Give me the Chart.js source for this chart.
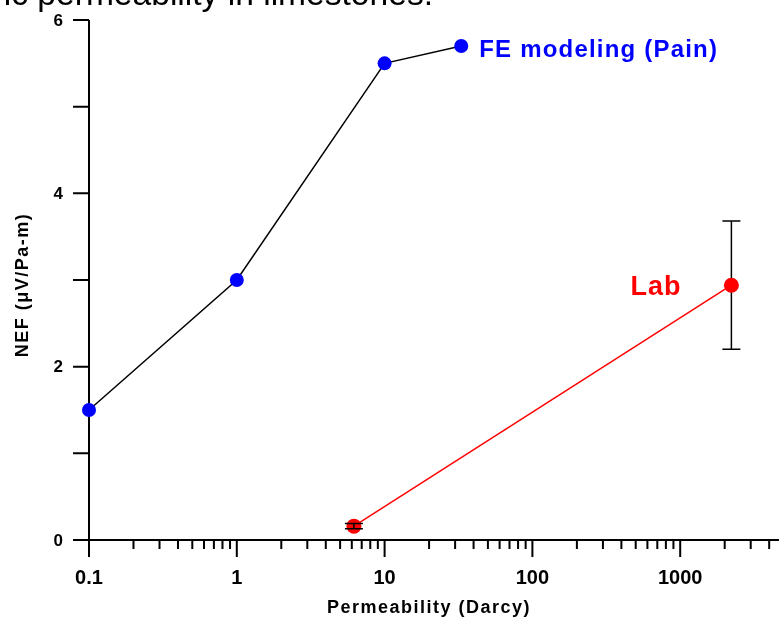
<!DOCTYPE html>
<html>
<head>
<meta charset="utf-8">
<script src="https://cdn.jsdelivr.net/npm/chart.js@4.4.1/dist/chart.umd.min.js"></script>
<style>
  html, body { margin: 0; padding: 0; background: #fff; overflow: hidden; }
  #wrap { width: 779px; height: 619px; overflow: hidden; position: relative; }
  canvas { display: block; }
</style>
</head>
<body>
<div id="wrap"><canvas id="chart__1" width="840" height="619"></canvas></div>
<script>
"use strict";

// FE modeling (Pain)
const feK = [0.1, 1, 10, 33];
const feNEF = [1.5, 3.0, 5.5, 5.7];

// Lab measurements, with +/- spread
const labK = [6.2, 2220];
const labNEF = [0.16, 2.94];
const labErr = [0.03, 0.74];

// axes
const xMin = 0.1;
const xMax = 10000;
const yMin = 0;
const yMax = 6;
const xMajorTicks = [0.1, 1, 10, 100, 1000];
const xTickLabels = ["0.1", "1", "10", "100", "1000"];
const yMajorTicks = [0, 2, 4, 6];
const yTickLabels = ["0", "2", "4", "6"];
const yMinorTicks = [1, 3, 5];

const BOLD = "'Liberation Sans', Arial, sans-serif";

const toPoints = (xs, ys) => xs.map((v, i) => ({ x: v, y: ys[i] }));

const axisPlugin = {
  id: "axisPlugin",
  beforeDatasetsDraw(chart) {
    const ctx = chart.ctx;
    const sx = chart.scales.x;
    const sy = chart.scales.y;
    const x0 = sx.getPixelForValue(xMin);
    const y0 = sy.getPixelForValue(yMin);

    ctx.save();
    ctx.strokeStyle = "#000";
    ctx.lineWidth = 2;
    ctx.beginPath();
    ctx.moveTo(x0, sy.getPixelForValue(yMax));
    ctx.lineTo(x0, y0);
    ctx.moveTo(x0 - 16, y0);
    ctx.lineTo(chart.width, y0);

    // y ticks point outwards
    yMajorTicks.concat(yMinorTicks).forEach((v) => {
      const py = sy.getPixelForValue(v);
      ctx.moveTo(x0 - 16, py);
      ctx.lineTo(x0, py);
    });

    // x ticks: decades long, 2..9 short
    xMajorTicks.concat([xMax]).forEach((v) => {
      const px = sx.getPixelForValue(v);
      ctx.moveTo(px, y0);
      ctx.lineTo(px, y0 + 17);
    });
    xMajorTicks.forEach((d) => {
      for (let m = 2; m <= 9; m++) {
        const px = sx.getPixelForValue(d * m);
        ctx.moveTo(px, y0);
        ctx.lineTo(px, y0 + 9);
      }
    });
    ctx.stroke();

    // tick labels
    ctx.fillStyle = "#000";
    ctx.font = "bold 17px " + BOLD;
    ctx.textBaseline = "middle";
    ctx.textAlign = "right";
    yMajorTicks.forEach((v, i) => {
      ctx.fillText(yTickLabels[i], x0 - 26, sy.getPixelForValue(v) + 1);
    });
    ctx.font = "bold 20px " + BOLD;
    ctx.textAlign = "center";
    xMajorTicks.forEach((v, i) => {
      ctx.fillText(xTickLabels[i], sx.getPixelForValue(v), y0 + 38);
    });

    // axis titles
    ctx.font = "bold 18px " + BOLD;
    ctx.letterSpacing = "1.5px";
    ctx.fillText("Permeability (Darcy)", 429, y0 + 68);
    ctx.save();
    ctx.translate(23, 285);
    ctx.rotate(-Math.PI / 2);
    ctx.fillText("NEF (\u03BCV/Pa-m)", 0, 0);
    ctx.restore();
    ctx.letterSpacing = "0px";

    // error bar stems sit under the markers
    ctx.lineWidth = 1.5;
    ctx.beginPath();
    labK.forEach((k, i) => {
      const px = sx.getPixelForValue(k);
      ctx.moveTo(px, sy.getPixelForValue(labNEF[i] + labErr[i]));
      ctx.lineTo(px, sy.getPixelForValue(labNEF[i] - labErr[i]));
    });
    ctx.stroke();
    ctx.restore();
  },
  afterDatasetsDraw(chart) {
    const ctx = chart.ctx;
    const sx = chart.scales.x;
    const sy = chart.scales.y;
    ctx.save();

    // error bar caps
    ctx.strokeStyle = "#000";
    ctx.lineWidth = 1.5;
    ctx.beginPath();
    labK.forEach((k, i) => {
      const px = sx.getPixelForValue(k);
      [labNEF[i] + labErr[i], labNEF[i] - labErr[i]].forEach((v) => {
        const py = sy.getPixelForValue(v);
        ctx.moveTo(px - 9, py);
        ctx.lineTo(px + 9, py);
      });
    });
    // short stem over the small marker
    const ps = sx.getPixelForValue(labK[0]);
    ctx.moveTo(ps, sy.getPixelForValue(labNEF[0] + labErr[0]));
    ctx.lineTo(ps, sy.getPixelForValue(labNEF[0] - labErr[0]));
    ctx.stroke();

    // series labels
    const last = feK.length - 1;
    ctx.font = "bold 24px " + BOLD;
    ctx.letterSpacing = "1.2px";
    ctx.textBaseline = "alphabetic";
    ctx.textAlign = "left";
    ctx.fillStyle = "#0000ff";
    ctx.fillText("FE modeling (Pain)", sx.getPixelForValue(feK[last]) + 18, sy.getPixelForValue(feNEF[last]) + 11);

    ctx.font = "bold 27px " + BOLD;
    ctx.letterSpacing = "1px";
    ctx.textAlign = "right";
    ctx.fillStyle = "#ff0000";
    ctx.fillText("Lab", sx.getPixelForValue(labK[1]) - 50, sy.getPixelForValue(labNEF[1]) + 10);
    ctx.letterSpacing = "0px";

    // caption line running in from above, sized so "permeability ..." spans 37..433
    ctx.fillStyle = "#000";
    ctx.textAlign = "right";
    ctx.font = "32px 'Liberation Sans', Arial, sans-serif";
    const w = ctx.measureText("permeability in limestones.").width;
    const size = 32 * 396 / w;
    ctx.font = size.toFixed(1) + "px 'Liberation Sans', Arial, sans-serif";
    ctx.fillText("ic permeability in limestones.", 433, 5);
    ctx.restore();
  },
};

const chartConfig = {
  type: "scatter",
  data: {
    datasets: [
      {
        label: "FE modeling (Pain)",
        data: toPoints(feK, feNEF),
        showLine: true,
        borderColor: "#000000",
        borderWidth: 1.5,
        backgroundColor: "#0000ff",
        pointBackgroundColor: "#0000ff",
        pointBorderWidth: 0,
        pointRadius: 7,
        clip: false,
      },
      {
        label: "Lab",
        data: toPoints(labK, labNEF),
        showLine: true,
        borderColor: "#ff0000",
        borderWidth: 1.5,
        backgroundColor: "#ff0000",
        pointBackgroundColor: "#ff0000",
        pointBorderWidth: 0,
        pointRadius: 7.5,
        clip: false,
      },
    ],
  },
  options: {
    responsive: false,
    devicePixelRatio: 1,
    animation: false,
    layout: {
      padding: { left: 89, right: 12, top: 20, bottom: 79 },
    },
    plugins: {
      legend: { display: false },
      tooltip: { enabled: false },
    },
    scales: {
      x: { type: "logarithmic", min: xMin, max: xMax, display: false },
      y: { type: "linear", min: yMin, max: yMax, display: false },
    },
  },
  plugins: [axisPlugin],
};

const chart__1 = new Chart(document.getElementById("chart__1").getContext("2d"), chartConfig);
</script>
</body>
</html>
